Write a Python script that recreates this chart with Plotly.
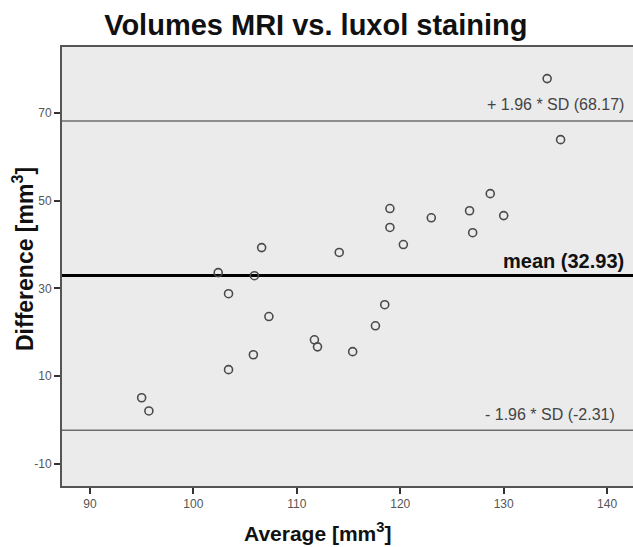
import plotly.graph_objects as go

# Data (Bland-Altman: average vs difference, mm^3)
average = [134.2, 135.5, 128.7, 126.7, 130.0, 127.0, 123.0, 119.0, 119.0, 120.3,
           114.1, 106.6, 105.9, 102.4, 103.4, 118.5, 107.3, 117.6, 111.7, 112.0,
           115.4, 105.8, 103.4, 95.0, 95.7]
difference = [77.8, 63.9, 51.6, 47.7, 46.6, 42.7, 46.1, 48.2, 43.9, 40.0,
              38.2, 39.3, 32.9, 33.6, 28.8, 26.3, 23.6, 21.5, 18.3, 16.7,
              15.6, 14.9, 11.5, 5.1, 2.1]
mean_diff = 32.93
upper_loa = 68.17
lower_loa = -2.31
x_ticks = [90, 100, 110, 120, 130, 140]
y_ticks = [-10, 10, 30, 50, 70]
y_tick_text = ["-10", "10", "30", "50", "70"]

FONT = "Liberation Sans, Arial, sans-serif"

fig = go.Figure()
fig.add_trace(go.Scatter(
    x=average, y=difference, mode="markers",
    marker=dict(symbol="circle-open", size=8, color="#4a4a4a", line=dict(width=1.6)),
    showlegend=False, hoverinfo="skip"))

for yv, col, w in [(upper_loa, "#6e6e6e", 1.5), (lower_loa, "#6e6e6e", 1.5), (mean_diff, "#000000", 3)]:
    fig.add_shape(type="line", xref="paper", x0=0, x1=1, yref="y", y0=yv, y1=yv,
                  line=dict(color=col, width=w), layer="below")

fig.add_annotation(xref="paper", x=0.9875, yref="y", y=upper_loa, yshift=16,
                   text=f"+ 1.96 * SD ({upper_loa:.2f})", showarrow=False, xanchor="right",
                   font=dict(family=FONT, size=16, color="#444444"))
fig.add_annotation(xref="paper", x=0.9875, yref="y", y=mean_diff, yshift=15,
                   text=f"<b>mean ({mean_diff:.2f})</b>", showarrow=False, xanchor="right",
                   font=dict(family=FONT, size=20, color="#111111"))
fig.add_annotation(xref="paper", x=0.972, yref="y", y=lower_loa, yshift=16,
                   text=f"- 1.96 * SD ({lower_loa:.2f})", showarrow=False, xanchor="right",
                   font=dict(family=FONT, size=16, color="#444444"))

# Axis titles placed as annotations (positions follow the reference)
fig.add_annotation(xref="paper", yref="paper", x=(317 - 62) / 571, y=-(532 - 486) / 439,
                   text="<b>Average [mm<sup>3</sup>]</b>", showarrow=False,
                   xanchor="center", yanchor="middle",
                   font=dict(family=FONT, size=21, color="#111111"))
fig.add_annotation(xref="paper", yref="paper", x=-(62 - 23) / 571, y=(486 - 259) / 439,
                   text="<b>Difference [mm<sup>3</sup>]</b>", showarrow=False, textangle=-90,
                   xanchor="center", yanchor="middle",
                   font=dict(family=FONT, size=23, color="#111111"))

fig.update_layout(
    width=633, height=547,
    margin=dict(l=62, r=0, t=47, b=61),
    paper_bgcolor="white", plot_bgcolor="#ebebeb",
    title=dict(text="<b>Volumes MRI vs. luxol staining</b>", x=0.499, xanchor="center",
               y=0.954, yanchor="middle",
               font=dict(family=FONT, size=29, color="#111111")),
    font=dict(family=FONT),
)
fig.update_xaxes(range=[87.3, 142.5], tickvals=x_ticks, ticks="outside", ticklen=6, tickwidth=2,
                 tickcolor="#333333", showgrid=False, zeroline=False, showline=True,
                 linecolor="#555555", linewidth=2, mirror=True, automargin=False,
                 tickfont=dict(size=12, color="#555555"))
fig.update_yaxes(range=[-15, 85], tickvals=y_ticks, ticktext=y_tick_text, ticks="outside",
                 ticklen=6, tickwidth=2,
                 tickcolor="#333333", showgrid=False, zeroline=False, showline=True,
                 linecolor="#555555", linewidth=2, mirror=True, automargin=False,
                 tickfont=dict(size=12, color="#555555"))

fig.write_html("out.html", config={"displayModeBar": False},
               post_script="document.body.style.margin='0';document.body.style.overflow='hidden';")
